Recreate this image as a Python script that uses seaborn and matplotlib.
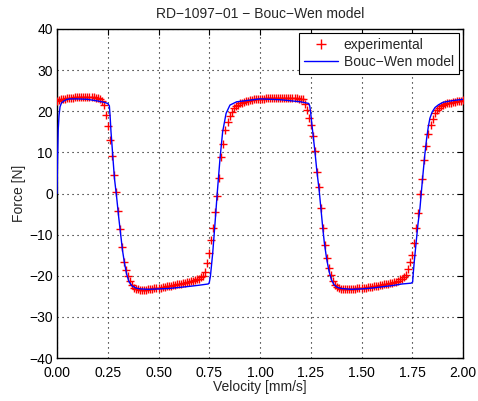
import matplotlib
matplotlib.use("Agg")
import matplotlib.pyplot as plt
import seaborn as sns
import pandas as pd
from matplotlib.lines import Line2D

exp_x = [0.00, 0.01, 0.02, 0.03, 0.04, 0.05, 0.06, 0.07, 0.08, 0.09, 0.10, 0.11, 0.12, 0.13, 0.14,
         0.15, 0.16, 0.17, 0.18, 0.19, 0.20, 0.21, 0.22, 0.23, 0.24, 0.25, 0.26, 0.27, 0.28, 0.29,
         0.30, 0.31, 0.32, 0.33, 0.34, 0.35, 0.36, 0.37, 0.38, 0.39, 0.40, 0.41, 0.42, 0.43, 0.44,
         0.45, 0.46, 0.47, 0.48, 0.49, 0.50, 0.51, 0.52, 0.53, 0.54, 0.55, 0.56, 0.57, 0.58, 0.59,
         0.60, 0.61, 0.62, 0.63, 0.64, 0.65, 0.66, 0.67, 0.68, 0.69, 0.70, 0.71, 0.72, 0.73, 0.74,
         0.75, 0.76, 0.77, 0.78, 0.79, 0.80, 0.81, 0.82, 0.83, 0.84, 0.85, 0.86, 0.87, 0.88, 0.89,
         0.90, 0.91, 0.92, 0.93, 0.94, 0.95, 0.96, 0.97, 0.98, 0.99, 1.00, 1.01, 1.02, 1.03, 1.04,
         1.05, 1.06, 1.07, 1.08, 1.09, 1.10, 1.11, 1.12, 1.13, 1.14, 1.15, 1.16, 1.17, 1.18, 1.19,
         1.20, 1.21, 1.22, 1.23, 1.24, 1.25, 1.26, 1.27, 1.28, 1.29, 1.30, 1.31, 1.32, 1.33, 1.34,
         1.35, 1.36, 1.37, 1.38, 1.39, 1.40, 1.41, 1.42, 1.43, 1.44, 1.45, 1.46, 1.47, 1.48, 1.49,
         1.50, 1.51, 1.52, 1.53, 1.54, 1.55, 1.56, 1.57, 1.58, 1.59, 1.60, 1.61, 1.62, 1.63, 1.64,
         1.65, 1.66, 1.67, 1.68, 1.69, 1.70, 1.71, 1.72, 1.73, 1.74, 1.75, 1.76, 1.77, 1.78, 1.79,
         1.80, 1.81, 1.82, 1.83, 1.84, 1.85, 1.86, 1.87, 1.88, 1.89, 1.90, 1.91, 1.92, 1.93, 1.94,
         1.95, 1.96, 1.97, 1.98, 1.99, 2.00]
exp_f = [22.6, 22.8, 22.9, 23.0, 23.1, 23.2, 23.2, 23.3, 23.3, 23.4, 23.4, 23.4, 23.5, 23.5, 23.5,
         23.5, 23.5, 23.4, 23.4, 23.3, 23.2, 23.0, 22.6, 21.5, 19.0, 16.3, 13.0, 9.0, 4.5, 0.3,
         -4.3, -8.6, -13.0, -16.6, -18.6, -20.0, -21.3, -22.3, -22.9, -23.2, -23.3, -23.4, -23.4, -23.4, -23.4,
         -23.3, -23.3, -23.2, -23.1, -23.0, -22.9, -22.9, -22.8, -22.7, -22.6, -22.5, -22.4, -22.3, -22.2, -22.1,
         -22.0, -21.9, -21.8, -21.7, -21.6, -21.4, -21.3, -21.2, -21.0, -20.9, -20.7, -20.4, -20.0, -19.0, -17.0,
         -14.4, -11.4, -8.3, -4.5, -0.7, 3.8, 8.9, 12.0, 15.5, 17.3, 18.8, 19.8, 20.7, 21.2, 21.6,
         21.9, 22.1, 22.3, 22.5, 22.6, 22.7, 22.8, 22.9, 23.0, 23.0, 23.1, 23.1, 23.1, 23.2, 23.2,
         23.2, 23.2, 23.2, 23.3, 23.3, 23.3, 23.3, 23.3, 23.3, 23.3, 23.3, 23.2, 23.2, 23.2, 23.1,
         23.1, 23.0, 21.8, 20.3, 18.3, 16.6, 13.9, 10.4, 5.3, 1.5, -3.6, -8.5, -12.6, -15.8, -18.2,
         -19.8, -21.2, -22.2, -22.8, -23.1, -23.2, -23.3, -23.3, -23.3, -23.3, -23.2, -23.2, -23.2, -23.1, -23.1,
         -23.0, -23.0, -22.9, -22.8, -22.8, -22.7, -22.6, -22.5, -22.4, -22.3, -22.2, -22.1, -22.0, -21.9, -21.8,
         -21.7, -21.6, -21.4, -21.2, -20.9, -20.7, -20.4, -19.8, -18.4, -16.6, -15.0, -12.0, -8.4, -4.7, 0.0,
         3.6, 8.2, 11.5, 14.4, 16.6, 18.2, 19.5, 20.3, 20.8, 21.2, 21.5, 21.7, 21.9, 22.0, 22.1,
         22.2, 22.3, 22.4, 22.5, 22.6, 22.7]

# Bouc-Wen model curve
mod_x = [0.000, 0.003, 0.006, 0.010, 0.015, 0.022, 0.031, 0.045, 0.060, 0.100, 0.150, 0.200, 0.230,
         0.250, 0.258, 0.262, 0.266, 0.270, 0.276, 0.283, 0.294, 0.304, 0.314, 0.322, 0.332, 0.343,
         0.355, 0.370, 0.390, 0.410, 0.450, 0.550, 0.650, 0.700, 0.745, 0.750, 0.756, 0.762, 0.767,
         0.778, 0.790, 0.803, 0.816, 0.833, 0.852, 0.885, 0.950, 1.000, 1.100, 1.200, 1.240, 1.245,
         1.250, 1.255, 1.262, 1.271, 1.280, 1.291, 1.300, 1.309, 1.317, 1.328, 1.340, 1.352, 1.365,
         1.380, 1.400, 1.450, 1.500, 1.550, 1.600, 1.650, 1.700, 1.745, 1.752, 1.755, 1.760, 1.768,
         1.778, 1.788, 1.796, 1.804, 1.812, 1.821, 1.829, 1.837, 1.848, 1.862, 1.880, 1.903, 1.950,
         2.000]
mod_f = [0.0, 9.0, 15.5, 19.0, 21.1, 22.0, 22.4, 22.8, 23.0, 23.0, 22.9, 22.5, 22.2,
         21.9, 21.3, 18.5, 15.0, 12.4, 8.3, 3.7, -1.0, -5.8, -10.1, -13.6, -16.8, -19.6,
         -21.5, -22.5, -23.0, -23.2, -23.3, -23.1, -22.6, -22.3, -22.0, -21.7, -20.0, -17.0, -14.5,
         -7.5, 0.5, 8.5, 15.0, 19.5, 21.5, 22.3, 22.7, 23.0, 22.8, 22.3, 21.9, 21.3,
         19.5, 17.0, 14.0, 10.0, 5.5, 1.0, -3.6, -8.3, -12.0, -15.8, -18.9, -21.0, -22.2,
         -22.8, -23.1, -23.3, -23.2, -23.0, -22.7, -22.4, -22.0, -21.8, -21.5, -19.4, -16.5, -12.5,
         -7.5, -3.6, 1.0, 5.3, 9.5, 13.4, 16.2, 18.3, 19.8, 20.9, 21.6, 22.2, 22.6,
         22.9]

title = "RD\u22121097\u221201 \u2212 Bouc\u2212Wen model"
x_label = "Velocity [mm/s]"
y_label = "Force [N]"
x_ticks = [0.00, 0.25, 0.50, 0.75, 1.00, 1.25, 1.50, 1.75, 2.00]
y_ticks = [-40, -30, -20, -10, 0, 10, 20, 30, 40]

sns.set_style("white")
plt.rcParams['font.family'] = ['Liberation Sans', 'DejaVu Sans']
plt.rcParams['axes.unicode_minus'] = True

fig = plt.figure(figsize=(4.78, 4.01), dpi=100)
ax = fig.add_axes([57 / 478, (401 - 358) / 401, (463 - 57) / 478, (358 - 29) / 401])

df_exp = pd.DataFrame({"x": exp_x, "f": exp_f})
df_mod = pd.DataFrame({"x": mod_x, "f": mod_f})

sns.scatterplot(data=df_exp, x="x", y="f", ax=ax, marker="+", color="#ff0000",
                s=40, linewidth=1.0, zorder=3, legend=False)
sns.lineplot(data=df_mod, x="x", y="f", ax=ax, color="#0000ff", linewidth=1.0,
             estimator=None, sort=False, zorder=4, legend=False)

ax.set_xlim(0, 2)
ax.set_ylim(-40, 40)
ax.set_xticks(x_ticks)
ax.set_xticklabels([f"{v:.2f}" for v in x_ticks])
ax.set_yticks(y_ticks)
ax.set_yticklabels([f"{v}".replace("-", "\u2212") for v in y_ticks])
ax.tick_params(direction="in", length=4, width=0.8, top=True, right=True,
               labelsize=10, colors="black")
ax.tick_params(axis="x", pad=6)
ax.tick_params(axis="y", pad=3)
ax.grid(True, linestyle=(0, (1, 3.5)), color="black", linewidth=0.8)
for s in ax.spines.values():
    s.set_visible(True)
    s.set_color("black")
    s.set_linewidth(1.0)

ax.set_title(title, fontsize=10, pad=8)
ax.set_xlabel(x_label, fontsize=10, labelpad=0)
ax.set_ylabel(y_label, fontsize=10, labelpad=2)

handles = [Line2D([], [], color="#ff0000", marker="+", linestyle="none", markersize=7, markeredgewidth=1.0),
           Line2D([], [], color="#0000ff", linewidth=1.0)]
leg = ax.legend(handles, ["experimental", "Bouc\u2212Wen model"], loc="upper right",
                fontsize=10, frameon=True, fancybox=False, edgecolor="black",
                framealpha=1, borderaxespad=0.3, handlelength=2.5, handletextpad=0.4,
                borderpad=0.35, labelspacing=0.2)
leg.get_frame().set_linewidth(0.8)

fig.savefig("out.png", dpi=100)
